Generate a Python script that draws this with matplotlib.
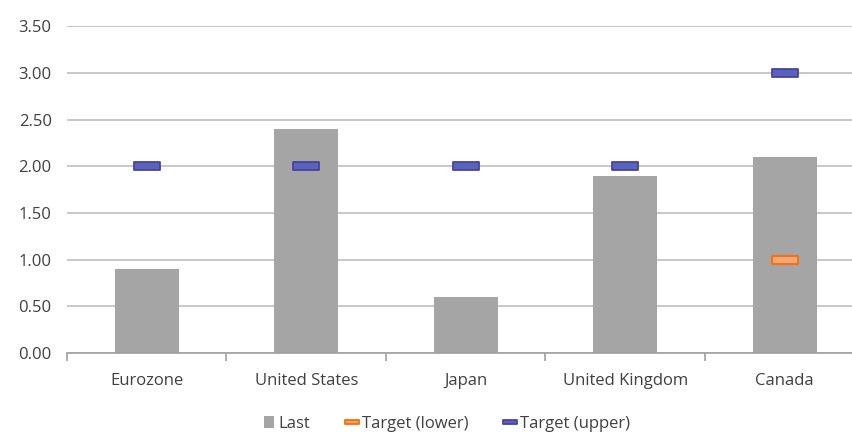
import numpy as np
import matplotlib.pyplot as plt
from matplotlib.path import Path
from matplotlib.lines import Line2D

countries = ["Eurozone", "United States", "Japan", "United Kingdom", "Canada"]
last = [0.9, 2.4, 0.6, 1.9, 2.1]
target_lower = [np.nan, np.nan, np.nan, np.nan, 1.0]
target_upper = [2.0, 2.0, 2.0, 2.0, 3.0]
yticks = [0.0, 0.5, 1.0, 1.5, 2.0, 2.5, 3.0, 3.5]

plt.rcParams['font.family'] = ['Open Sans', 'DejaVu Sans']

fig = plt.figure(figsize=(8.53, 4.36), dpi=100)
ax = fig.add_axes([0.0785, 0.19, 0.935, 0.75])

x = np.arange(len(countries))
bars = ax.bar(x, last, width=0.4, color="#a5a5a5", label="Last", zorder=2)

# flat rectangle marker for the target levels
rect = Path([(-1.8, -0.5), (1.8, -0.5), (1.8, 0.5), (-1.8, 0.5), (-1.8, -0.5)],
            [Path.MOVETO, Path.LINETO, Path.LINETO, Path.LINETO, Path.CLOSEPOLY])
lower_style = dict(markerfacecolor="#f0a878", markeredgecolor="#ff6a00", markeredgewidth=1.3)
upper_style = dict(markerfacecolor="#5a62bc", markeredgecolor="#45459c", markeredgewidth=1.3)
ax.plot(x, target_lower, linestyle="none", marker=rect, markersize=19, zorder=3, **lower_style)
ax.plot(x, target_upper, linestyle="none", marker=rect, markersize=19, zorder=3, **upper_style)

ax.set_xlim(-0.5, len(countries) - 0.5)
ax.set_ylim(0, 3.5)
ax.set_yticks(yticks)
ax.set_yticklabels([f"{v:.2f}" for v in yticks])
ax.yaxis.grid(True, color="#c4c4c4", linewidth=1.3, zorder=0)
ax.set_axisbelow(True)

ax.set_xticks(x)
ax.set_xticklabels(countries)
ax.set_xticks(np.arange(len(countries) + 1) - 0.5, minor=True)
ax.tick_params(axis="x", which="major", length=0, pad=14, labelsize=12, labelcolor="#404040")
ax.tick_params(axis="x", which="minor", length=6, color="#a0a0a0", width=1.2)
ax.tick_params(axis="y", length=0, pad=11, labelsize=12, labelcolor="#404040")

for s in ["top", "right", "left"]:
    ax.spines[s].set_visible(False)
ax.spines["bottom"].set_color("#a0a0a0")
ax.spines["bottom"].set_linewidth(1.2)

handles = [
    bars,
    Line2D([], [], linestyle="none", marker=rect, markersize=10, **lower_style),
    Line2D([], [], linestyle="none", marker=rect, markersize=10, **upper_style),
]
labels = ["Last", "Target (lower)", "Target (upper)"]
fig.legend(handles, labels, loc="center", bbox_to_anchor=(0.524, 0.028), ncol=3,
           frameon=False, fontsize=12, handlelength=0.6, handletextpad=0.3,
           columnspacing=2.2, labelcolor="#404040")

fig.savefig("out.png", dpi=100)
